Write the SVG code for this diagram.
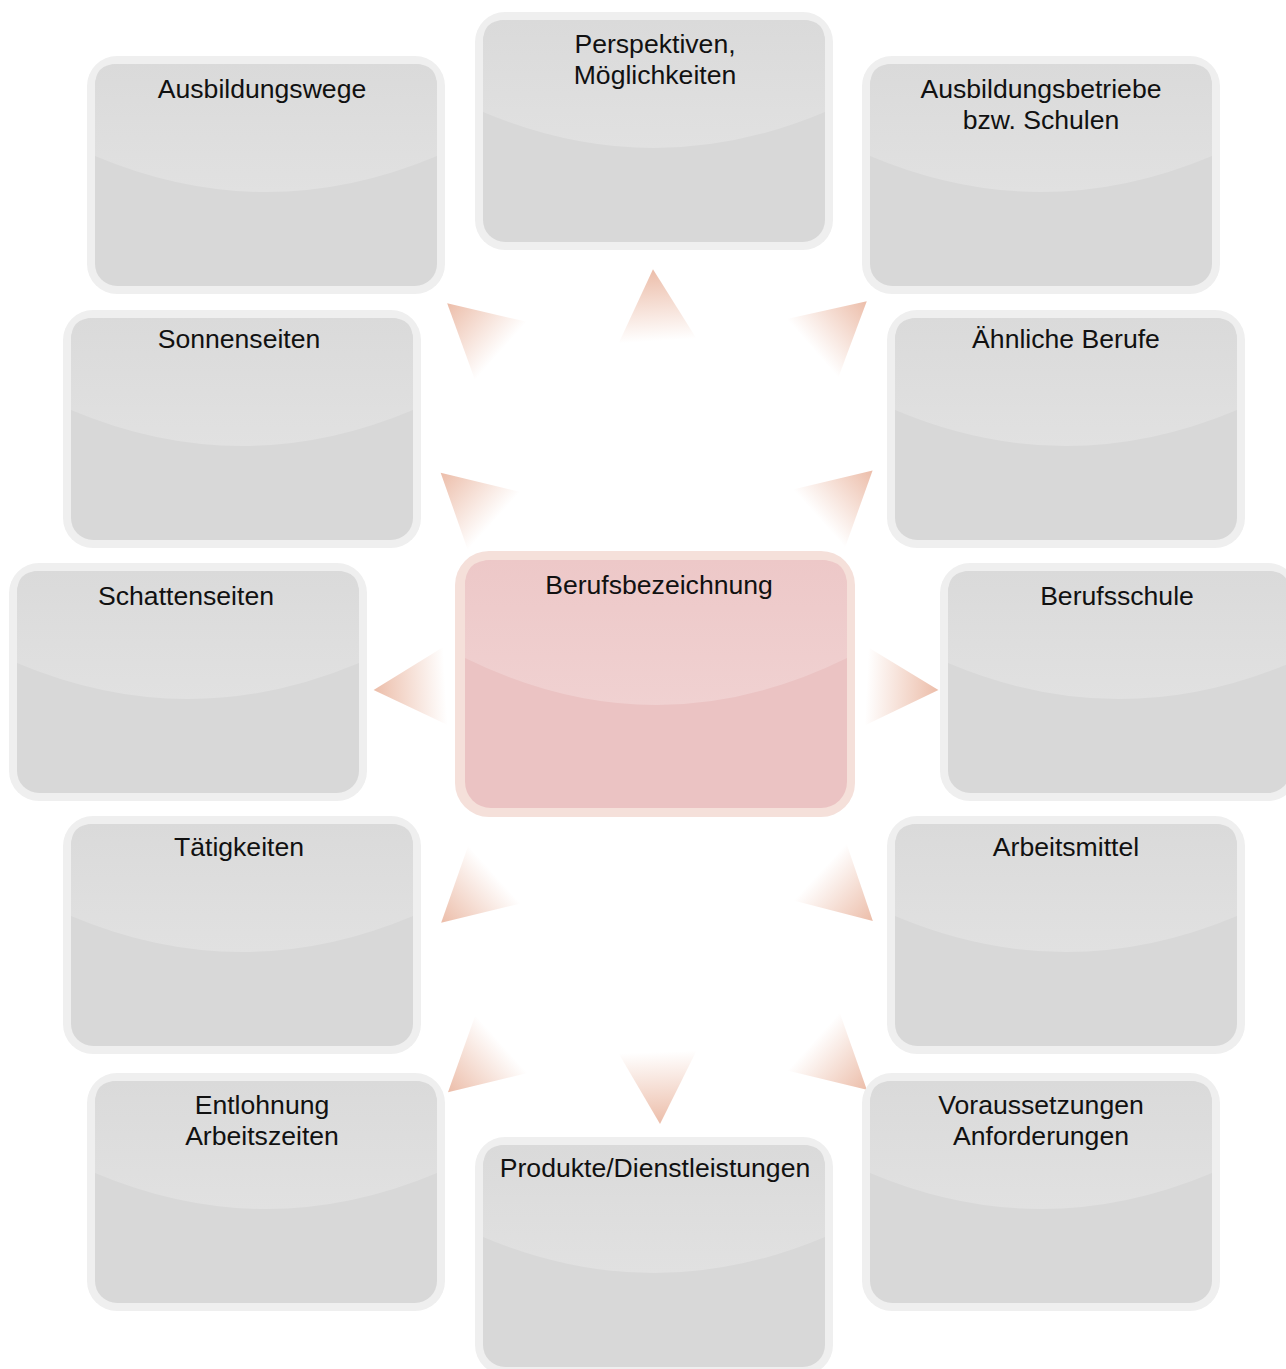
<svg xmlns="http://www.w3.org/2000/svg" xmlns:xlink="http://www.w3.org/1999/xlink" width="1286" height="1369" viewBox="0 0 1286 1369">
<defs>
<style>
.lbl{font-family:"Liberation Sans",Arial,Helvetica,sans-serif;font-size:26.6px;fill:#111;text-anchor:middle}
</style>
<linearGradient id="gl" x1="0" y1="0" x2="0" y2="1">
<stop offset="0" stop-color="#dadada"/>
<stop offset="1" stop-color="#e1e1e1"/>
</linearGradient>
<linearGradient id="glc" x1="0" y1="0" x2="0" y2="1">
<stop offset="0" stop-color="#edc8c8"/>
<stop offset="1" stop-color="#f0d1d1"/>
</linearGradient>
<linearGradient id="tg" x1="0" y1="0" x2="1" y2="0">
<stop offset="0" stop-color="#ffffff"/>
<stop offset="1" stop-color="#ecbda9"/>
</linearGradient>
<g id="box">
<rect x="0" y="0" width="358" height="238" rx="30" fill="#efefef"/>
<rect x="8" y="8" width="342" height="222" rx="22" fill="#d8d8d8"/>
<path d="M8,100 L8,30 Q8,8 30,8 L328,8 Q350,8 350,30 L350,100 Q179,172 8,100 Z" fill="url(#gl)"/>
</g>
<polygon id="tri" points="0,-39 0,39 72,0" fill="url(#tg)"/>
</defs>
<rect width="1286" height="1369" fill="#ffffff"/>

<g id="connectors">
<use href="#tri" transform="translate(657.5,341) rotate(-93.6)"/>
<use href="#tri" transform="translate(657.5,1052) rotate(88)"/>
<use href="#tri" transform="translate(445.5,686) rotate(176.8)"/>
<use href="#tri" transform="translate(866.5,686.5) rotate(2.8)"/>
<use href="#tri" transform="translate(501,351) rotate(-138.4)"/>
<use href="#tri" transform="translate(812.5,348.5) rotate(-41.1)"/>
<use href="#tri" transform="translate(494,521) rotate(-137.8)"/>
<use href="#tri" transform="translate(819,518.5) rotate(-41.9)"/>
<use href="#tri" transform="translate(494.5,874.5) rotate(137.8)"/>
<use href="#tri" transform="translate(820,872) rotate(42.8)"/>
<use href="#tri" transform="translate(501.5,1044) rotate(138)"/>
<use href="#tri" transform="translate(813.5,1041.5) rotate(42.2)"/>
</g>

<g id="n-center">
<rect x="455" y="551" width="400" height="266" rx="34" fill="#f5e0da"/>
<rect x="465" y="560" width="382" height="248" rx="26" fill="#ebc3c3"/>
<path d="M465,658 L465,586 Q465,560 491,560 L821,560 Q847,560 847,586 L847,658 Q656,752 465,658 Z" fill="url(#glc)"/>
<text class="lbl" x="659" y="594">Berufsbezeichnung</text>
</g>

<g id="n-perspektiven">
<use href="#box" x="475" y="12"/>
<text class="lbl" x="655" y="53">Perspektiven,</text>
<text class="lbl" x="655" y="84">Möglichkeiten</text>
</g>

<g id="n-ausbildungswege">
<use href="#box" x="87" y="56"/>
<text class="lbl" x="262" y="98">Ausbildungswege</text>
</g>

<g id="n-ausbildungsbetriebe">
<use href="#box" x="862" y="56"/>
<text class="lbl" x="1041" y="98">Ausbildungsbetriebe</text>
<text class="lbl" x="1041" y="129">bzw. Schulen</text>
</g>

<g id="n-sonnenseiten">
<use href="#box" x="63" y="310"/>
<text class="lbl" x="239" y="348">Sonnenseiten</text>
</g>

<g id="n-aehnliche">
<use href="#box" x="887" y="310"/>
<text class="lbl" x="1066" y="348">Ähnliche Berufe</text>
</g>

<g id="n-schattenseiten">
<use href="#box" x="9" y="563"/>
<text class="lbl" x="186" y="605">Schattenseiten</text>
</g>

<g id="n-berufsschule">
<use href="#box" x="940" y="563"/>
<text class="lbl" x="1117" y="605">Berufsschule</text>
</g>

<g id="n-taetigkeiten">
<use href="#box" x="63" y="816"/>
<text class="lbl" x="239" y="856">Tätigkeiten</text>
</g>

<g id="n-arbeitsmittel">
<use href="#box" x="887" y="816"/>
<text class="lbl" x="1066" y="856">Arbeitsmittel</text>
</g>

<g id="n-entlohnung">
<use href="#box" x="87" y="1073"/>
<text class="lbl" x="262" y="1114">Entlohnung</text>
<text class="lbl" x="262" y="1145">Arbeitszeiten</text>
</g>

<g id="n-voraussetzungen">
<use href="#box" x="862" y="1073"/>
<text class="lbl" x="1041" y="1114">Voraussetzungen</text>
<text class="lbl" x="1041" y="1145">Anforderungen</text>
</g>

<g id="n-produkte">
<use href="#box" x="475" y="1137"/>
<text class="lbl" x="655" y="1177">Produkte/Dienstleistungen</text>
</g>
</svg>
